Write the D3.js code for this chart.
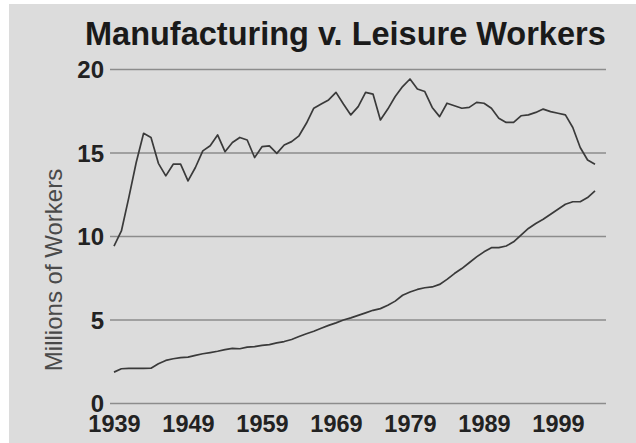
<!DOCTYPE html>
<html>
<head>
<meta charset="utf-8">
<script src="https://cdn.jsdelivr.net/npm/d3@7"></script>
<style>
  html, body { margin: 0; padding: 0; background: #ffffff; }
  svg { display: block; }
  text { font-family: "Liberation Sans", Arial, Helvetica, sans-serif; }
</style>
</head>
<body>
<svg id="chart" width="636" height="443"></svg>
<script>
const years = d3.range(1939, 2005);
const manufacturing = [
  9.4, 10.3, 12.3, 14.4, 16.15, 15.9, 14.35, 13.6, 14.3, 14.3,
  13.3, 14.1, 15.1, 15.4, 16.05, 15.05, 15.6, 15.9, 15.75, 14.7,
  15.35, 15.4, 14.95, 15.45, 15.65, 16.0, 16.75, 17.65, 17.9, 18.15,
  18.6, 17.9, 17.25, 17.75, 18.6, 18.5, 16.95, 17.6, 18.35, 18.95,
  19.4, 18.8, 18.65, 17.7, 17.15, 17.95, 17.8, 17.65, 17.7, 18.0,
  17.95, 17.65, 17.05, 16.8, 16.8, 17.2, 17.25, 17.4, 17.6, 17.45,
  17.35, 17.25, 16.5, 15.3, 14.55, 14.3
];
const leisure = [
  1.85, 2.05, 2.07, 2.07, 2.07, 2.08, 2.35, 2.55, 2.65, 2.72,
  2.75, 2.85, 2.95, 3.02, 3.1, 3.2, 3.27, 3.25, 3.35, 3.38,
  3.45, 3.5, 3.6, 3.68, 3.8, 3.98, 4.15, 4.3, 4.48, 4.65,
  4.8, 4.97, 5.1, 5.25, 5.4, 5.55, 5.65, 5.85, 6.1, 6.45,
  6.65, 6.8, 6.9, 6.95, 7.1, 7.4, 7.75, 8.05, 8.4, 8.75,
  9.05, 9.3, 9.3, 9.4, 9.65, 10.05, 10.45, 10.75, 11.0, 11.3,
  11.6, 11.9, 12.05, 12.05, 12.3, 12.7
];
const xTicks = [1939, 1949, 1959, 1969, 1979, 1989, 1999];
const yTicks = [0, 5, 10, 15, 20];
const title = "Manufacturing v. Leisure Workers";
const yTitle = "Millions of Workers";

const svg = d3.select("#chart");
svg.append("rect").attr("x", 9).attr("y", 4).attr("width", 627).attr("height", 439).attr("fill", "#dcdcdc");

const x = d3.scaleLinear().domain([1939, 2004]).range([114, 595]);
const y = d3.scaleLinear().domain([0, 20]).range([403, 69]);

// gridlines
const yAxis = d3.axisLeft(y).tickValues(yTicks).tickSize(-496).tickPadding(6).tickFormat(d3.format("d"));
const gy = svg.append("g").attr("transform", "translate(110,0)").call(yAxis);
gy.select(".domain").remove();
gy.selectAll(".tick line").attr("stroke", "#8c8c8c").attr("stroke-width", 1.6);
gy.selectAll(".tick text")
  .attr("x", -6)
  .attr("dy", null)
  .attr("dominant-baseline", "central")
  .attr("font-size", 24).attr("font-weight", "bold").attr("fill", "#222");

const xAxis = d3.axisBottom(x).tickValues(xTicks).tickSize(0).tickPadding(0).tickFormat(d3.format("d"));
const gx = svg.append("g").attr("transform", "translate(0,403)").call(xAxis);
gx.select(".domain").remove();
gx.selectAll(".tick text")
  .attr("y", 29).attr("dy", null)
  .attr("font-size", 23.5).attr("font-weight", "bold").attr("fill", "#222");

const line = d3.line().x((d, i) => x(years[i])).y(d => y(d));
[manufacturing, leisure].forEach(series => {
  svg.append("path").datum(series)
    .attr("d", line)
    .attr("fill", "none")
    .attr("stroke", "#3a3a3a")
    .attr("stroke-width", 1.7)
    .attr("stroke-linejoin", "round");
});

svg.append("text").attr("x", 85).attr("y", 45)
  .attr("font-size", 32.5).attr("font-weight", "bold").attr("fill", "#1a1a1a")
  .text(title);

svg.append("text")
  .attr("transform", "translate(62,270) rotate(-90)")
  .attr("text-anchor", "middle")
  .attr("font-size", 24).attr("fill", "#4a4a4a")
  .text(yTitle);
</script>
</body>
</html>
